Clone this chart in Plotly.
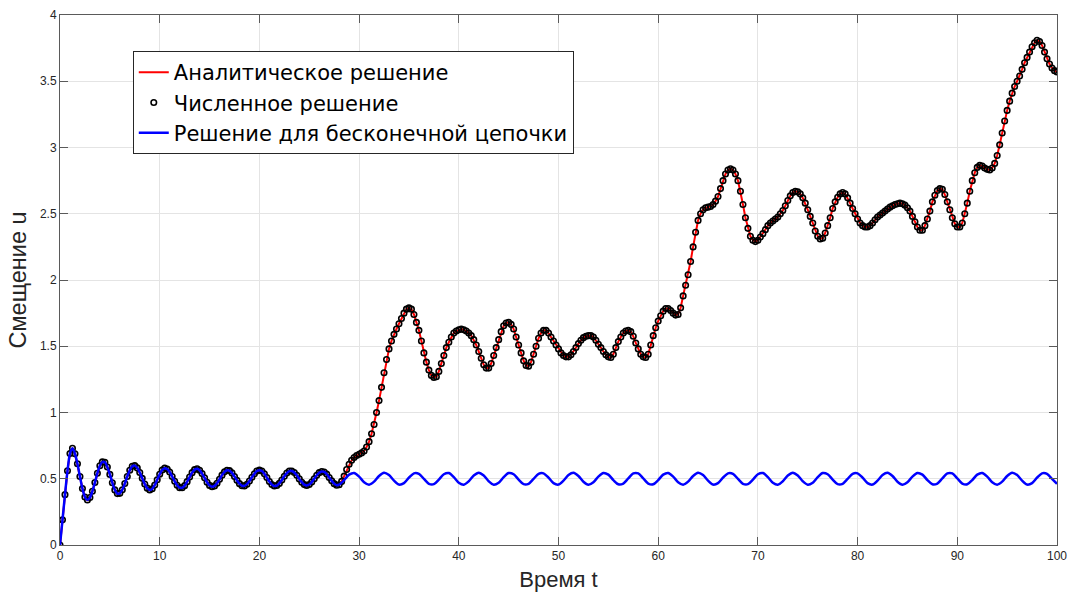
import plotly.graph_objects as go

# Sampling grids (time step of the stored solution values)
t_num = [i * 0.25 for i in range(401)]
t_tail = [28.5 + i * 0.5 for i in range(144)]

# Displacement of the observed mass, t = 0 .. 100 with step 0.25
u_num = [
    # 0 .. 28
    0.000, 0.19, 0.38, 0.56, 0.69, 0.73, 0.689, 0.613, 0.517, 0.426, 0.362, 0.340,
    0.358, 0.406, 0.472, 0.542, 0.598, 0.627, 0.624, 0.589, 0.533, 0.470, 0.416, 0.388,
    0.390, 0.417, 0.464, 0.517, 0.564, 0.594, 0.599, 0.582, 0.547, 0.503, 0.460, 0.429,
    0.415, 0.424, 0.452, 0.492, 0.534, 0.566, 0.580, 0.573, 0.551, 0.517, 0.481, 0.451,
    0.433, 0.432, 0.448, 0.478, 0.513, 0.546, 0.569, 0.575, 0.564, 0.539, 0.507, 0.474,
    0.450, 0.440, 0.446, 0.466, 0.496, 0.527, 0.552, 0.564, 0.561, 0.544, 0.517, 0.488,
    0.463, 0.447, 0.446, 0.459, 0.483, 0.511, 0.538, 0.558, 0.565, 0.558, 0.537, 0.509,
    0.479, 0.456, 0.445, 0.449, 0.465, 0.491, 0.519, 0.543, 0.558, 0.559, 0.547, 0.526,
    0.499, 0.474, 0.456, 0.450, 0.457, 0.475, 0.500, 0.526, 0.546, 0.555, 0.551, 0.535,
    0.510, 0.484, 0.463, 0.451, 0.455,
    # 28.25 .. 100
    0.48, 0.52, 0.57, 0.61,
    0.64, 0.66, 0.675, 0.685,
    0.695, 0.71, 0.74, 0.78,
    0.84, 0.91, 1.00, 1.09,
    1.19, 1.30, 1.40, 1.48,
    1.54, 1.59, 1.63, 1.67,
    1.71, 1.75, 1.78, 1.79,
    1.78, 1.74, 1.68, 1.62,
    1.54, 1.45, 1.38, 1.32,
    1.28, 1.265, 1.27, 1.31,
    1.37, 1.43, 1.49, 1.53,
    1.57, 1.60, 1.615, 1.625,
    1.63, 1.625, 1.615, 1.60,
    1.58, 1.55, 1.51, 1.46,
    1.41, 1.36, 1.335, 1.335,
    1.37, 1.43, 1.49, 1.55,
    1.61, 1.655, 1.675, 1.68,
    1.665, 1.63, 1.57, 1.51,
    1.45, 1.39, 1.355, 1.35,
    1.38, 1.44, 1.50, 1.56,
    1.60, 1.62, 1.62, 1.60,
    1.57, 1.54, 1.51, 1.48,
    1.45, 1.43, 1.42, 1.42,
    1.435, 1.46, 1.49, 1.52,
    1.545, 1.565, 1.575, 1.58,
    1.58, 1.57, 1.545, 1.515,
    1.49, 1.46, 1.435, 1.42,
    1.415, 1.44, 1.49, 1.535,
    1.57, 1.60, 1.615, 1.62,
    1.61, 1.575, 1.525, 1.48,
    1.44, 1.42, 1.415, 1.44,
    1.51, 1.58, 1.64, 1.69,
    1.73, 1.765, 1.785, 1.785,
    1.77, 1.75, 1.735, 1.74,
    1.79, 1.88, 1.96, 2.04,
    2.14, 2.25, 2.36, 2.45,
    2.50, 2.53, 2.545, 2.55,
    2.555, 2.57, 2.595, 2.63,
    2.69, 2.75, 2.80, 2.83,
    2.84, 2.83, 2.80, 2.75,
    2.67, 2.57, 2.47, 2.39,
    2.33, 2.30, 2.29, 2.30,
    2.325, 2.35, 2.38, 2.41,
    2.43, 2.445, 2.46, 2.475,
    2.50, 2.525, 2.56, 2.60,
    2.635, 2.66, 2.67, 2.665,
    2.65, 2.62, 2.58, 2.53,
    2.48, 2.43, 2.37, 2.33,
    2.31, 2.315, 2.355, 2.41,
    2.47, 2.54, 2.59, 2.625,
    2.65, 2.66, 2.65, 2.62,
    2.58, 2.54, 2.50, 2.46,
    2.43, 2.41, 2.40, 2.40,
    2.41, 2.43, 2.455, 2.475,
    2.49, 2.505, 2.52, 2.535,
    2.55, 2.56, 2.57, 2.575,
    2.58, 2.575, 2.565, 2.545,
    2.52, 2.48, 2.44, 2.40,
    2.375, 2.375, 2.41, 2.46,
    2.52, 2.59, 2.64, 2.675,
    2.69, 2.685, 2.645, 2.59,
    2.53, 2.47, 2.425, 2.40,
    2.40, 2.43, 2.50, 2.58,
    2.67, 2.75, 2.81, 2.85,
    2.865, 2.86, 2.845, 2.835,
    2.83, 2.845, 2.88, 2.94,
    3.02, 3.11, 3.20, 3.28,
    3.35, 3.41, 3.46, 3.50,
    3.54, 3.59, 3.64, 3.68,
    3.72, 3.76, 3.79, 3.81,
    3.80, 3.77, 3.72, 3.67,
    3.63, 3.60, 3.58, 3.57,
]

# Infinite-chain solution after the two curves separate, t = 28.5 .. 100 step 0.5
u_chain_tail = [
    0.490, 0.531,
    0.544, 0.516, 0.474, 0.455, 0.478, 0.521, 0.545, 0.528, 0.486, 0.456, 0.467, 0.508,
    0.541, 0.537, 0.499, 0.462, 0.459, 0.494, 0.534, 0.543, 0.512, 0.470, 0.455, 0.481,
    0.524, 0.545, 0.524, 0.481, 0.455, 0.470, 0.512, 0.543, 0.534, 0.494, 0.459, 0.462,
    0.499, 0.537, 0.541, 0.508, 0.467, 0.456, 0.486, 0.528, 0.545, 0.521, 0.478, 0.455,
    0.474, 0.516, 0.544, 0.531, 0.490, 0.458, 0.464, 0.503, 0.540, 0.540, 0.503, 0.464,
    0.458, 0.490, 0.531,
    0.544, 0.516, 0.474, 0.455, 0.478, 0.521, 0.545, 0.528, 0.486, 0.456, 0.467, 0.508,
    0.541, 0.537, 0.499, 0.462, 0.459, 0.494, 0.534, 0.543, 0.512, 0.470, 0.455, 0.481,
    0.524, 0.545, 0.524, 0.481, 0.455, 0.470, 0.512, 0.543, 0.534, 0.494, 0.459, 0.462,
    0.499, 0.537, 0.541, 0.508, 0.467, 0.456, 0.486, 0.528, 0.545, 0.521, 0.478, 0.455,
    0.474, 0.516, 0.544, 0.531, 0.490, 0.458, 0.464, 0.503, 0.540, 0.540, 0.503, 0.464,
    0.458, 0.490, 0.531,
    0.544, 0.516, 0.474, 0.455, 0.478, 0.521, 0.545, 0.528, 0.486, 0.456, 0.467, 0.508,
    0.541, 0.537, 0.499, 0.462,
]

# Up to t = 28 the chain solution coincides with the computed one
t_chain = t_num[:113] + t_tail
u_chain = u_num[:113] + u_chain_tail

x_ticks = list(range(0, 101, 10))
y_ticks = [0, 0.5, 1, 1.5, 2, 2.5, 3, 3.5, 4]
y_tick_text = ["0", "0.5", "1", "1.5", "2", "2.5", "3", "3.5", "4"]

names = ["Аналитическое решение", "Численное решение", "Решение для бесконечной цепочки"]

fig = go.Figure()
fig.add_trace(go.Scatter(
    x=t_num, y=u_num, mode="lines", name=names[0],
    line=dict(color="#ff0000", width=2),
))
fig.add_trace(go.Scatter(
    x=t_num, y=u_num, mode="markers", name=names[1],
    marker=dict(symbol="circle-open", size=5.5, color="black",
                line=dict(color="black", width=1.6)),
))
fig.add_trace(go.Scatter(
    x=t_chain, y=u_chain, mode="lines", name=names[2],
    line=dict(color="#0000ff", width=2.5, shape="spline", smoothing=0.8),
))

axis_common = dict(
    showline=True, linecolor="#5a5a5a", linewidth=1, mirror="ticks",
    ticks="inside", ticklen=8, tickcolor="#5a5a5a", tickwidth=1,
    showgrid=True, gridcolor="#e4e4e4", gridwidth=1, zeroline=False,
    automargin=False,
    tickfont=dict(family="Liberation Sans, Arial, sans-serif", size=12, color="#262626"),
)

fig.update_layout(
    width=1068, height=593,
    margin=dict(l=60, r=11, t=15, b=48),
    paper_bgcolor="white", plot_bgcolor="white",
    font=dict(family="Liberation Sans, Arial, sans-serif", color="#262626"),
    xaxis=dict(range=[0, 100], tickvals=x_ticks,
               title=dict(text="Время t", font=dict(size=22, color="#262626"), standoff=9),
               **axis_common),
    yaxis=dict(range=[0, 4], tickvals=y_ticks, ticktext=y_tick_text,
               title=dict(text="Смещение u", font=dict(size=23.5, color="#262626"), standoff=6),
               **axis_common),
    legend=dict(
        x=0.073, y=0.932, xanchor="left", yanchor="top",
        bgcolor="white", bordercolor="#262626", borderwidth=1,
        font=dict(size=21, color="black", family="DejaVu Sans, sans-serif"),
        tracegroupgap=0, itemwidth=30,
    ),
    showlegend=True,
)

fig.write_html("out.html")
